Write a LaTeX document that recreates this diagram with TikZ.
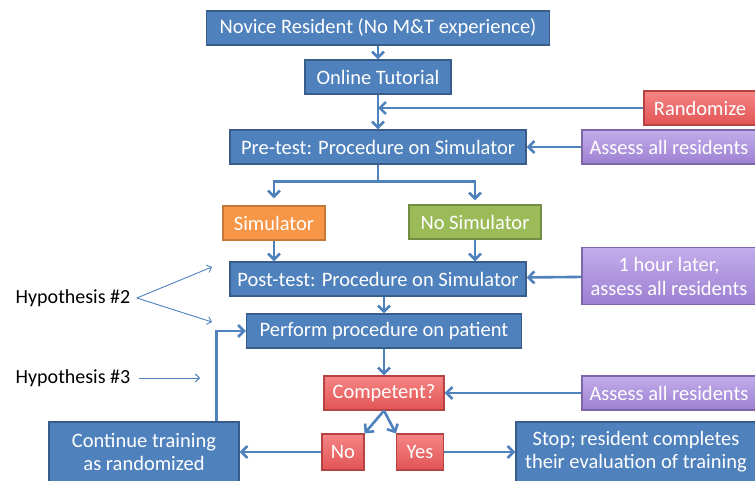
\documentclass[tikz,border=0pt]{standalone}
\usepackage{fontspec}
\setmainfont{Carlito}
\usetikzlibrary{arrows.meta,positioning}

\definecolor{boxblue}{HTML}{4F81BD}
\definecolor{edgeblue}{HTML}{385D8A}
\definecolor{simorange}{HTML}{F79646}
\definecolor{simgreen}{HTML}{9BBB59}
\definecolor{redtop}{HTML}{F58585}
\definecolor{redbot}{HTML}{E25454}
\definecolor{purptop}{HTML}{C3ADEB}
\definecolor{purpbot}{HTML}{9D80D2}

\tikzset{
  flowbox/.style = {draw=edgeblue, line width=1.2pt, fill=boxblue, text=white,
    minimum height=34pt, inner sep=2pt, align=center,
    font=\fontsize{20.5}{23}\selectfont},
  redbox/.style = {flowbox, draw=redbot!80!black, top color=redtop, bottom color=redbot},
  purpbox/.style = {flowbox, draw=purpbot!80!black, top color=purptop, bottom color=purpbot},
  flow/.style = {draw=boxblue, line width=2.6pt, -{Straight Barb[length=6pt,width=12pt]}},
  hyparrow/.style = {draw=boxblue, line width=0.9pt, -{Straight Barb[length=4pt,width=8pt]}},
  hyptext/.style = {font=\fontsize{20}{23}\selectfont}
}

\begin{document}
\begin{tikzpicture}[node distance = 50pt, on grid]
   \useasboundingbox (0pt,0pt) rectangle (755pt,-481pt);
   \node[flowbox, minimum width=343pt] (novice) at (378pt,-28pt) {Novice Resident (No M\&T experience)};
   \node[flowbox, minimum width=146pt] (tutorial) [below = 49pt of novice] {Online Tutorial};
   \node[flowbox, minimum width=296pt] (pretest) [below = 70pt of tutorial] {Pre-test: Procedure on Simulator};
   \node[flowbox, minimum width=102pt, fill=simorange, draw=simorange!80!black] (simulator) [below left = 76pt and 104pt of pretest] {Simulator};
   \node[flowbox, minimum width=132pt, fill=simgreen, draw=simgreen!75!black] (nosim) [below right = 75pt and 97pt of pretest] {No Simulator};
   \node[flowbox, minimum width=296pt] (posttest) [below = 132pt of pretest] {Post-test: Procedure on Simulator};
   \node[flowbox, minimum width=275pt] (perform) [below right = 52pt and 6pt of posttest] {Perform procedure on patient};
   \node[redbox, minimum width=120pt] (competent) [below = 62pt of perform] {Competent?};
   \node[redbox, minimum width=42pt, minimum height=36pt] (no) [below left = 59pt and 41pt of competent] {No};
   \node[redbox, minimum width=47pt, minimum height=36pt] (yes) [below right = 59pt and 36pt of competent] {Yes};
   \node[flowbox, minimum width=190pt, minimum height=60pt] (continue) [left = 199pt of no] {Continue training\\as randomized};
   \node[flowbox, minimum width=240pt, minimum height=60pt] (stop) [right = 216pt of yes] {Stop; resident completes\\their evaluation of training};
   \node[redbox, minimum width=112pt] (randomize) [above right = 39pt and 322pt of pretest] {Randomize};
   \node[purpbox, minimum width=174pt] (assess_a) [right = 291pt of pretest] {Assess all residents};
   \node[purpbox, minimum width=174pt, minimum height=57pt, font=\fontsize{20.5}{24}\selectfont] (later) [above right = 3pt and 291pt of posttest] {1 hour later,\\assess all residents};
   \node[purpbox, minimum width=174pt] (assess_b) [right = 285pt of competent] {Assess all residents};
   \node[hyptext] (hyp_2) at (73pt,-298pt) {Hypothesis \#2};
   \node[hyptext] (hyp_3) at (73pt,-378pt) {Hypothesis \#3};
   \coordinate (rand_in) at (randomize -| tutorial);
   \coordinate (split) at ([yshift=-17pt]pretest.south);
   \coordinate (h2_up) at (212pt,-267pt);
   \coordinate (h2_down) at (212pt,-322pt);
   \coordinate (h3_end) at (200pt,-378pt);
   % main flow
   \draw[flow] (novice) -- (tutorial);
   \draw[flow] (tutorial) -- (pretest);
   \draw[flow] (randomize) -- (rand_in);
   \draw[flow] (assess_a) -- (pretest);
   \draw[flow, shorten >=7pt] (pretest.south) -- (split) -| (simulator.north);
   \draw[flow, shorten >=4pt] (split) -| (nosim.north);
   \draw[flow] (simulator) -- (simulator |- posttest.north);
   \draw[flow] (nosim) -- (nosim |- posttest.north);
   \draw[flow] (later) -- (posttest);
   \draw[flow] (posttest.south -| perform) -- (perform);
   \draw[flow] (perform) -- (competent);
   \draw[flow] (assess_b) -- (competent);
   \draw[flow] (competent.south) -- (no.north east);
   \draw[flow] (competent.south) -- (yes.north west);
   \draw[flow] (no) -- (continue);
   \draw[flow] (yes) -- (stop);
   \draw[flow] ([xshift=-23pt]continue.north east) |- (perform.west);
   % hypotheses
   \draw[hyparrow] ([xshift=3pt]hyp_2.east) -- (h2_up);
   \draw[hyparrow] ([xshift=3pt]hyp_2.east) -- (h2_down);
   \draw[hyparrow] ([xshift=5pt]hyp_3.east) -- (h3_end);
\end{tikzpicture}
\end{document}
